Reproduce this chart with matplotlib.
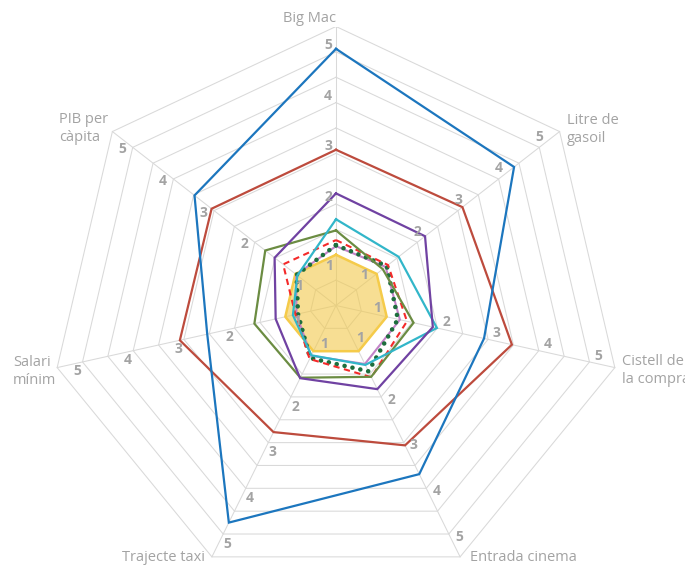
import numpy as np
import matplotlib
matplotlib.use('Agg')
import matplotlib.pyplot as plt

# ---------------- data ----------------
categories = ['Big Mac', 'Litre de\ngasoil', 'Cistell de\nla compra', 'Entrada cinema',
              'Trajecte taxi', 'Salari\nmínim', 'PIB per\ncàpita']
tick_values = [1, 2, 3, 4, 5]
tick_labels = ['1', '2', '3', '4', '5']
r_max = 5.5
grid_step = 0.5

blue = [5.06, 4.38, 2.92, 3.69, 4.75, 2.54, 3.48]
red = [3.07, 3.11, 3.47, 3.06, 2.77, 3.08, 3.06]
purple = [2.21, 2.19, 1.91, 1.83, 1.59, 1.19, 1.51]
cyan = [1.70, 1.54, 1.99, 1.30, 1.09, 0.85, 0.95]
olive = [1.48, 1.15, 1.53, 1.56, 1.58, 1.61, 1.74]
red_dashed = [1.29, 1.28, 1.40, 1.57, 1.17, 0.80, 1.30]
green_dotted = [1.19, 1.25, 1.22, 1.44, 1.15, 0.75, 0.97]
pink = [1.17, 1.22, 1.26, 1.28, 1.10, 0.78, 0.98]
yellow = [1, 1, 1, 1, 1, 1, 1]

# ---------------- style ----------------
plt.rcParams['font.family'] = ['Open Sans', 'DejaVu Sans']
TXT = '#A3A3A3'
GRID = '#D9D9D9'

n = len(categories)
theta = np.pi / 2 - 2 * np.pi * np.arange(n) / n


def xy(vals):
    v = np.asarray(vals, dtype=float)
    v = np.append(v, v[0])
    t = np.append(theta, theta[0])
    return v * np.cos(t), v * np.sin(t)


W, H = 685, 566
fig = plt.figure(figsize=(W / 100, H / 100), dpi=100)
cx, cy, rx, ry = 336, 305.5, 286, 279
ax = fig.add_axes([(cx - rx) / W, (H - cy - ry) / H, 2 * rx / W, 2 * ry / H])
ax.set_xlim(-r_max, r_max)
ax.set_ylim(-r_max, r_max)
ax.set_aspect('auto')
ax.axis('off')

# grid rings
for r in np.arange(grid_step, r_max + 1e-9, grid_step):
    gx, gy = xy([r] * n)
    ax.plot(gx, gy, color=GRID, lw=0.75, zorder=1)
# spokes
for t in theta:
    ax.plot([0, r_max * np.cos(t)], [0, r_max * np.sin(t)], color=GRID, lw=0.75, zorder=1)

# yellow filled reference series
yx, yy = xy(yellow)
ax.fill(yx, yy, color='#F2C94C', alpha=0.6, lw=0, zorder=2)
ax.plot(yx, yy, color='#F5CB4A', lw=1.8, zorder=2.5)

series = [
    (pink, dict(color='#C383C8', lw=1.5)),
    (green_dotted, dict(color='#1D6E3D', lw=3.3, linestyle=(0, (0.01, 1.75)), dash_capstyle='round')),
    (red_dashed, dict(color='#F42A2A', lw=1.5, linestyle=(0, (3, 2.2)))),
    (olive, dict(color='#6B8C42', lw=1.6)),
    (cyan, dict(color='#32B6C9', lw=1.6)),
    (purple, dict(color='#7042A2', lw=1.6)),
    (red, dict(color='#BD4B3D', lw=1.6)),
    (blue, dict(color='#1C76BE', lw=1.6)),
]
for i, (vals, kw) in enumerate(series):
    sx, sy = xy(vals)
    ax.plot(sx, sy, zorder=3 + i * 0.1, solid_joinstyle='miter', **kw)

# tick labels on every axis
for t in theta:
    u = np.array([np.cos(t), np.sin(t)])
    p = np.array([-np.sin(t), np.cos(t)])
    for v, lab in zip(tick_values, tick_labels):
        if v == 1:
            off = -11 * u + 7 * p
        else:
            off = 7 * u + 8 * p
        ax.annotate(lab, (v * np.cos(t), v * np.sin(t)), xytext=(off[0], off[1]),
                    textcoords='offset pixels', ha='center', va='center',
                    fontsize=10, fontweight='bold', color=TXT, zorder=10,
                    annotation_clip=False)

# category labels (layout only)
cat_layout = [
    dict(off=(0, 1), ha='right', va='bottom'),
    dict(off=(7, 2), ha='left', va='center'),
    dict(off=(7, -3), ha='left', va='center'),
    dict(off=(10, -1), ha='left', va='center'),
    dict(off=(-7, -1), ha='right', va='center'),
    dict(off=(-1, -4), ha='right', va='center'),
    dict(off=(-4, 3), ha='right', va='center'),
]
for t, lab, lay in zip(theta, categories, cat_layout):
    ax.annotate(lab, (r_max * np.cos(t), r_max * np.sin(t)), xytext=lay['off'],
                textcoords='offset pixels', ha=lay['ha'], va=lay['va'],
                multialignment='left', fontsize=10.5, color=TXT,
                linespacing=1.25, annotation_clip=False, zorder=10)

fig.savefig('out.png', dpi=100)
